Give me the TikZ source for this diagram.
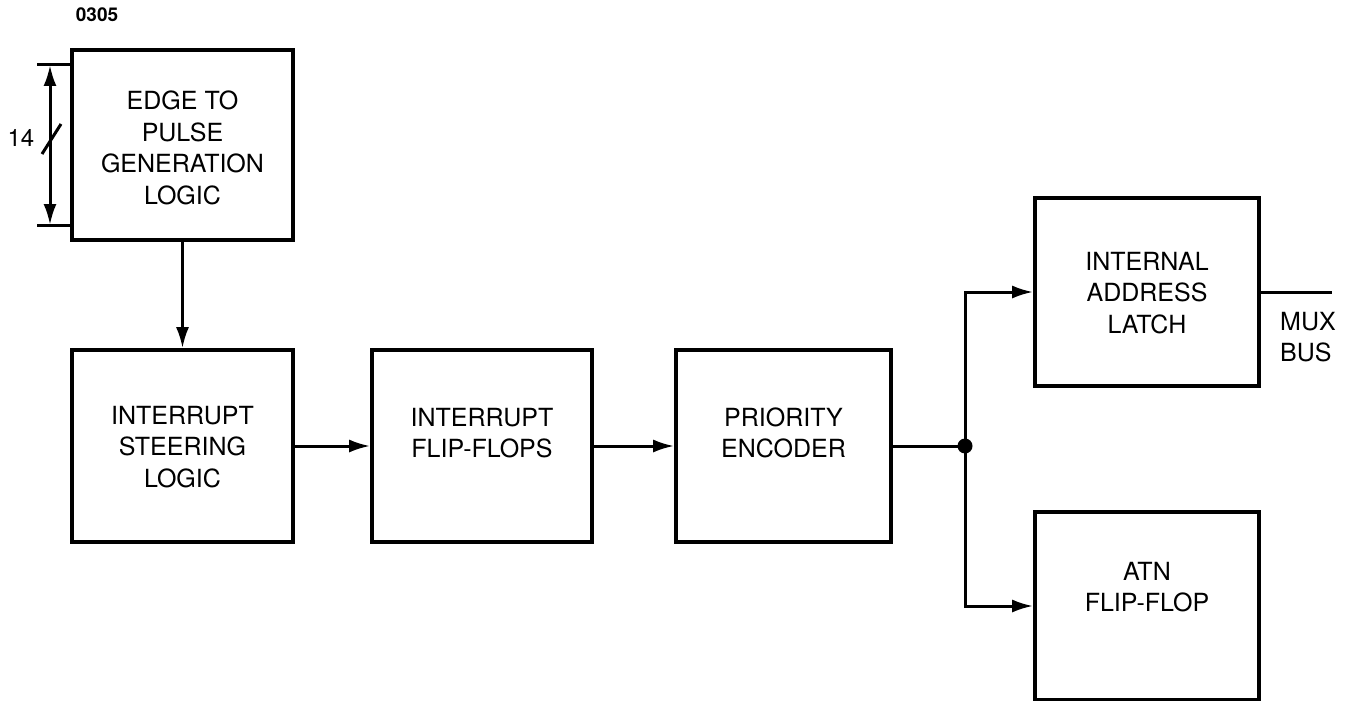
\documentclass[tikz,border=0pt]{standalone}
\usepackage{fontspec}
\setmainfont{TeX Gyre Heros}
\usetikzlibrary{arrows.meta}
\begin{document}
\begin{tikzpicture}[x=1pt,y=-1pt,
  blk/.style={draw, line width=3.6pt, inner sep=0pt},
  lbl/.style={align=center, font=\fontsize{25}{31.7}\selectfont, inner sep=0pt},
  wire/.style={line width=3pt},
  arr/.style={wire, -{Latex[length=21pt,width=13pt]}},
  dot/.style={circle, fill, inner sep=0pt, minimum size=15pt}]
\useasboundingbox (0,0) rectangle (1350,701);
\fill[white] (0,0) rectangle (1350,701);
% blocks
\node[blk, minimum width=221pt, minimum height=190pt] (b1) at (182.5,145) {};
\node[blk, minimum width=221pt, minimum height=192pt] (b2) at (182.5,446) {};
\node[blk, minimum width=220pt, minimum height=192pt] (b3) at (482,446) {};
\node[blk, minimum width=215pt, minimum height=192pt] (b4) at (783.5,446) {};
\node[blk, minimum width=224pt, minimum height=188pt] (b5) at (1147,292) {};
\node[blk, minimum width=224pt, minimum height=188pt] (b6) at (1147,606) {};
% labels
\node[lbl] (t1) at (182.5,148) {EDGE TO\\PULSE\\GENERATION\\LOGIC};
\node[lbl] (t2) at (182.5,447) {INTERRUPT\\STEERING\\LOGIC};
\node[lbl] (t3) at (482,433) {INTERRUPT\\FLIP-FLOPS};
\node[lbl] (t4) at (783.5,433) {PRIORITY\\ENCODER};
\node[lbl] (t5) at (1147,293) {INTERNAL\\ADDRESS\\LATCH};
\node[lbl] (t6) at (1147,587) {ATN\\FLIP-FLOP};
\node[lbl, align=left] (mux) at (1308,337) {MUX\\BUS};
\node[font=\bfseries\fontsize{19}{21}\selectfont, inner sep=0pt] (code) at (97,15) {0305};
\node[font=\fontsize{24}{26}\selectfont, inner sep=0pt] (n14) at (21,138) {14};
% bus into first block
\coordinate (bt) at (50,65);
\coordinate (bb) at (50,225);
\draw[wire] (37,65) -- (70,65);
\draw[wire] (37,225) -- (70,225);
\draw[wire, {Latex[length=21pt,width=13pt]}-{Latex[length=21pt,width=13pt]}] (bt) -- (bb);
\draw[wire] (42,154) -- (61,124);
% connectors
\coordinate (j) at (965,446);
\coordinate (busend) at (1332,292);
\draw[arr] (b1.south) -- (b2.north);
\draw[arr] (b2.east) -- (b3.west);
\draw[arr] (b3.east) -- (b4.west);
\draw[wire] (b4.east) -- (j);
\draw[arr] (j) |- (b5.west);
\draw[arr] (j) |- (b6.west);
\draw[wire] (b5.east) -- (busend);
\node[dot] (jd) at (j) {};
\end{tikzpicture}
\end{document}
